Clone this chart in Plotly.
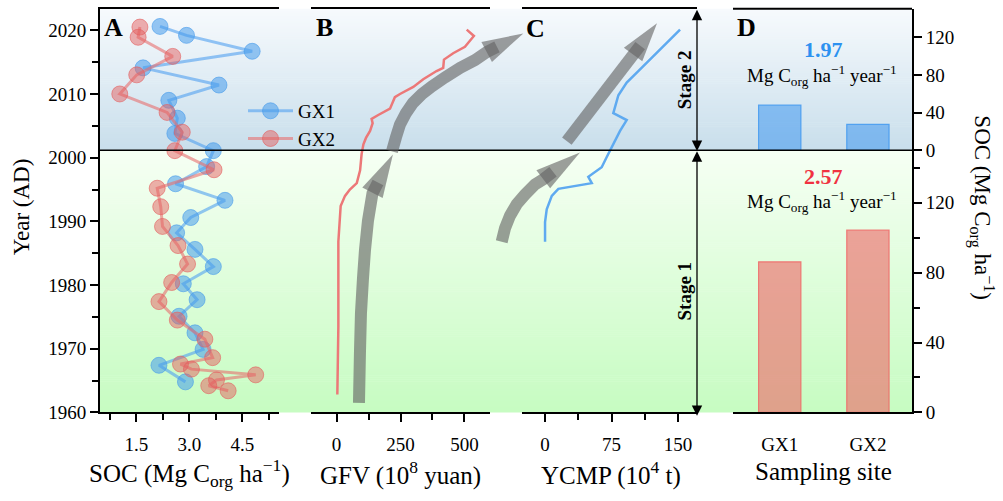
import plotly.graph_objects as go
import math

# ---------------- data ----------------
gx1_year = [2020.6, 2019.2, 2016.7, 2014.1, 2011.4, 2009.0, 2006.2, 2003.8, 2001.1, 1998.6, 1995.9, 1993.3,
            1990.6, 1988.2, 1985.6, 1982.9, 1980.2, 1977.7, 1975.1, 1972.5, 1969.9, 1967.4, 1964.8]
gx1_soc = [2.17, 2.92, 4.78, 1.69, 3.84, 2.42, 2.66, 2.59, 3.68, 3.49, 2.61, 4.01,
           3.04, 2.64, 3.16, 3.68, 2.83, 3.22, 2.71, 3.16, 3.39, 2.14, 2.89]
gx2_year = [2020.5, 2018.9, 2015.9, 2013.0, 2010.0, 2007.1, 2004.0, 2001.1, 1998.1, 1995.2, 1992.3, 1989.2,
            1986.2, 1983.3, 1980.4, 1977.4, 1974.5, 1971.5, 1968.6, 1967.6, 1966.8, 1965.9, 1965.1, 1964.2, 1963.4]
gx2_soc = [1.60, 1.55, 2.53, 1.51, 1.03, 2.37, 2.80, 2.59, 3.70, 2.09, 2.19, 2.24,
           2.68, 2.95, 2.50, 2.14, 2.66, 3.44, 3.66, 2.75, 3.06, 4.88, 3.77, 3.55, 4.10]

gfv_year = [1962.8, 1973.5, 1986.8, 1989.9, 1992.4, 1994.0, 1995.0, 1996.0, 1998.0, 2000.6, 2002.1, 2003.1,
            2004.2, 2005.4, 2006.1, 2006.7, 2007.7, 2009.5, 2010.0, 2011.1, 2012.3, 2013.6, 2014.1, 2015.4,
            2016.4, 2017.4, 2019.1, 2020.1]
gfv_val = [3, 7, 7, 11, 16, 33, 52, 79, 92, 98, 105, 115,
           131, 141, 137, 163, 209, 228, 248, 300, 339, 391, 417, 420,
           456, 502, 537, 509]

ycmp_year = [1986.8, 1989.9, 1991.9, 1994.0, 1995.1, 1995.4, 1996.0, 1997.0, 1998.5, 2000.1, 2002.1, 2004.2,
             2005.9, 2007.0, 2009.8, 2011.8, 2013.6, 2015.4, 2017.4, 2018.7, 2020.1]
ycmp_val = [0, 0, 1.9, 7.6, 15, 28.2, 52.7, 48.8, 63.9, 69.6, 77, 84.6,
            92.1, 77, 82.7, 92.1, 105.2, 118.4, 133.4, 142.9, 152.3]

sites = ["GX1", "GX2"]
soc_stage2 = [48, 27.5]
soc_stage1 = [86.2, 104.3]
rate_stage2 = "1.97"
rate_stage1 = "2.57"

year_ticks = [1960, 1970, 1980, 1990, 2000, 2010, 2020]
soc_ticks = [1.5, 3.0, 4.5]
gfv_ticks = [0, 250, 500]
ycmp_ticks = [0, 75, 150]
d_ticks = [0, 40, 80, 120]

# trend arrows (data units of panel B / C): body points, head base, tip
arrow_b1_x = [87.6, 91.5, 95.4, 103.2, 111.1, 122.8, 140.4, 161.9]
arrow_b1_y = [1961.5, 1969.5, 1975.6, 1981.0, 1985.5, 1990.1, 1994.4, 1996.1]
arrow_b1_head = [(140.4, 1994.5), (220.3, 2000.5)]
arrow_b2_x = [216.7, 232.3, 248.0, 271.4, 298.8, 334.0, 373.1, 423.9, 482.6, 541.2, 588.2, 627.3]
arrow_b2_y = [2001.0, 2003.2, 2005.2, 2007.0, 2008.6, 2010.0, 2011.2, 2012.6, 2014.1, 2015.3, 2016.6, 2017.4]
arrow_b2_head = [(587.0, 2016.6), (730.2, 2019.5)]
arrow_c1_x = [-48.9, -45.2, -39.5, -32.0, -22.6, -11.3, -2.0, 9.0]
arrow_c1_y = [1986.8, 1988.9, 1990.9, 1992.7, 1994.2, 1995.8, 1996.6, 1997.8]
arrow_c1_head = [(-2.0, 1996.6), (39.4, 2000.8)]
arrow_c2_x = [24.6, 107.3]
arrow_c2_y = [2002.6, 2017.6]
arrow_c2_head = [(99.3, 2016.2), (126.3, 2021.1)]

# ---------------- layout geometry (pixels) ----------------
W, H = 1003, 501
A_X = (100, 279)
B_X = (311, 490)
C_X = (522, 697)
D_X = (733, 912)
Y_TOP, Y_BOT, Y_DIV = 9, 421.7, 153.7
YR = (1960, 2023.37)
A_R = (0.47, 5.54)
B_R = (-100, 600)
C_R = (-26, 171.4)
D_R = (-0.53, 1.5)

FONT = "Liberation Serif"
TICKF = dict(family=FONT, size=19, color="black")


def xdom(p):
    return [p[0] / W, p[1] / W]


def ydom(top, bot):
    return [1 - bot / H, 1 - top / H]


def px_x(v, rng, dom):
    return dom[0] + (v - rng[0]) / (rng[1] - rng[0]) * (dom[1] - dom[0])


def py_y(yr):
    return Y_BOT - (yr - YR[0]) / (YR[1] - YR[0]) * (Y_BOT - Y_TOP)


def paper(px, py):
    return px / W, 1 - py / H


fig = go.Figure()

# ---- panel A ----
fig.add_trace(go.Scatter(x=gx1_soc, y=gx1_year, xaxis="x", yaxis="y", mode="lines+markers", name="GX1",
                         line=dict(color="rgba(80,160,240,0.6)", width=3),
                         marker=dict(size=16, color="rgba(70,155,235,0.55)",
                                     line=dict(color="rgba(70,155,235,0.6)", width=1))))
fig.add_trace(go.Scatter(x=gx2_soc, y=gx2_year, xaxis="x", yaxis="y", mode="lines+markers", name="GX2",
                         line=dict(color="rgba(232,110,110,0.6)", width=3),
                         marker=dict(size=16, color="rgba(228,95,95,0.5)",
                                     line=dict(color="rgba(228,95,95,0.6)", width=1))))
# ---- panel B ----
fig.add_trace(go.Scatter(x=gfv_val, y=gfv_year, xaxis="x2", yaxis="y", mode="lines", showlegend=False,
                         line=dict(color="rgb(236,120,120)", width=2.5)))
# ---- panel C ----
fig.add_trace(go.Scatter(x=ycmp_val, y=ycmp_year, xaxis="x3", yaxis="y", mode="lines", showlegend=False,
                         line=dict(color="rgb(95,170,240)", width=2.5)))
# ---- panel D ----
fig.add_trace(go.Bar(x=sites, y=soc_stage2, xaxis="x4", yaxis="y4", showlegend=False, width=0.48,
                     marker=dict(color="rgba(70,155,240,0.58)", line=dict(color="rgba(60,150,240,0.8)", width=1.2))))
fig.add_trace(go.Bar(x=sites, y=soc_stage1, xaxis="x4", yaxis="y5", showlegend=False, width=0.48,
                     marker=dict(color="rgba(238,105,105,0.62)", line=dict(color="rgba(240,100,100,0.8)", width=1.2))))

shapes = []


def mix(c1, c2, t):
    return "rgb(%d,%d,%d)" % tuple(round(a + (b - a) * t) for a, b in zip(c1, c2))


def gradient(top, bot, c_top, c_bot, step=2.0):
    n = int((bot - top) / step) + 1
    for i in range(n):
        y0 = top + i * step
        y1 = min(bot, y0 + step + 0.6)
        t = (i + 0.5) / n
        x0p, y0p = paper(A_X[0], y0)
        x1p, y1p = paper(D_X[1], y1)
        shapes.append(dict(type="rect", xref="paper", yref="paper", x0=x0p, x1=x1p, y0=y1p, y1=y0p,
                           fillcolor=mix(c_top, c_bot, t), line=dict(width=0), layer="below"))


gradient(Y_TOP, Y_DIV, (247, 250, 253), (200, 222, 235))
gradient(Y_DIV, Y_BOT, (246, 255, 244), (198, 252, 193))

# divider line
x0p, ydp = paper(A_X[0], Y_DIV)
x1p, _ = paper(D_X[1], Y_DIV)
shapes.append(dict(type="line", xref="paper", yref="paper", x0=x0p, x1=x1p, y0=ydp, y1=ydp,
                   line=dict(color="black", width=1.5), layer="above"))
# top border of panel D
xa, yt = paper(D_X[0], Y_TOP)
xb, _ = paper(D_X[1], Y_TOP)
shapes.append(dict(type="line", xref="paper", yref="paper", x0=xa, x1=xb, y0=yt, y1=yt,
                   line=dict(color="black", width=2), layer="above"))


def add_arrow(xs, ys, head, rng, dom_px, body_w=12, head_w=23):
    pts = [(px_x(v, rng, dom_px), py_y(yr)) for v, yr in zip(xs, ys)]
    path = "M " + " L ".join("%.5f,%.5f" % paper(px, py) for px, py in pts)
    shapes.append(dict(type="path", xref="paper", yref="paper", path=path,
                       line=dict(color="rgb(100,100,100)", width=body_w), fillcolor="rgba(0,0,0,0)",
                       opacity=0.62, layer="above"))
    (bv, byr), (tv, tyr) = head
    bx, by = px_x(bv, rng, dom_px), py_y(byr)
    tx, ty = px_x(tv, rng, dom_px), py_y(tyr)
    dx, dy = tx - bx, ty - by
    L = math.hypot(dx, dy)
    nx, ny = -dy / L, dx / L
    p1 = (bx + nx * head_w / 2, by + ny * head_w / 2)
    p2 = (bx - nx * head_w / 2, by - ny * head_w / 2)
    hp = "M %.5f,%.5f L %.5f,%.5f L %.5f,%.5f Z" % (*paper(tx, ty), *paper(*p1), *paper(*p2))
    shapes.append(dict(type="path", xref="paper", yref="paper", path=hp,
                       line=dict(width=0), fillcolor="rgb(100,100,100)", opacity=0.62, layer="above"))


add_arrow(arrow_b1_x, arrow_b1_y, arrow_b1_head, B_R, B_X)
add_arrow(arrow_b2_x, arrow_b2_y, arrow_b2_head, B_R, B_X)
add_arrow(arrow_c1_x, arrow_c1_y, arrow_c1_head, C_R, C_X)
add_arrow(arrow_c2_x, arrow_c2_y, arrow_c2_head, C_R, C_X)

annotations = []


def text(px, py, t, size=22, color="black", bold=False, angle=0, xanchor="center"):
    x, y = paper(px, py)
    annotations.append(dict(x=x, y=y, xref="paper", yref="paper", text=("<b>%s</b>" % t) if bold else t,
                            showarrow=False, textangle=angle, xanchor=xanchor, yanchor="middle",
                            font=dict(family=FONT, size=size, color=color)))


# panel letters
text(113, 28, "A", 26, bold=True)
text(324, 28, "B", 26, bold=True)
text(535, 29, "C", 26, bold=True)
text(746, 28, "D", 26, bold=True)
# axis titles
text(21, 212, "Year (AD)", 23, angle=-90)
text(982, 212, "SOC (Mg C<sub>org</sub> ha<sup>−1</sup>)", 23, angle=90)
text(189, 484, "SOC (Mg C<sub>org</sub> ha<sup>−1</sup>)", 25)
text(400, 484, "GFV (10<sup>8</sup> yuan)", 25)
text(611, 484, "YCMP (10<sup>4</sup> t)", 25)
text(823, 482, "Sampling site", 25)
# panel D rates
text(823, 51, rate_stage2, 22, color="rgb(45,145,240)", bold=True)
text(822, 77, "Mg C<sub>org</sub> ha<sup>−1</sup> year<sup>−1</sup>", 19)
text(823, 180, rate_stage1, 22, color="rgb(240,50,65)", bold=True)
text(822, 206, "Mg C<sub>org</sub> ha<sup>−1</sup> year<sup>−1</sup>", 19)
# stage labels
text(684, 82, "Stage 2", 19, bold=True, angle=-90)
text(684, 298, "Stage 1", 19, bold=True, angle=-90)

# stage double arrows
SX = 697
for (ya, yb) in [(Y_TOP + 1, Y_DIV - 1), (Y_DIV + 1, Y_BOT - 1)]:
    x, y = paper(SX, ya)
    annotations.append(dict(x=x, y=y, xref="paper", yref="paper", ax=0, ay=yb - ya, axref="pixel",
                            ayref="pixel", showarrow=True, arrowhead=2, arrowside="end+start",
                            arrowsize=1.6, arrowwidth=1.3, arrowcolor="black", text=""))

axis_common = dict(showline=True, linecolor="black", linewidth=2, ticks="outside", ticklen=8, tickwidth=1.5,
                   tickcolor="black", showgrid=False, zeroline=False, tickfont=TICKF)
minor_common = dict(ticks="outside", ticklen=6, tickwidth=1.5, tickcolor="black")

fig.update_layout(
    width=W, height=H, autosize=False,
    margin=dict(l=0, r=0, t=0, b=0, pad=0),
    paper_bgcolor="white", plot_bgcolor="rgba(0,0,0,0)",
    font=dict(family=FONT, color="black"),
    shapes=shapes, annotations=annotations,
    showlegend=True,
    legend=dict(x=243 / W, y=1 - 94 / H, xanchor="left", yanchor="top", bgcolor="rgba(0,0,0,0)",
                font=dict(family=FONT, size=19, color="black"), itemwidth=45, tracegroupgap=0),
    xaxis=dict(domain=xdom(A_X), range=list(A_R), anchor="y", mirror=True, tickvals=soc_ticks,
               ticktext=["%.1f" % v for v in soc_ticks], ticklabelstandoff=6,
               minor=dict(tickvals=[0.75, 2.25, 3.75, 5.25], **minor_common), **axis_common),
    xaxis2=dict(domain=xdom(B_X), range=list(B_R), anchor="y", mirror=True, tickvals=gfv_ticks,
                ticklabelstandoff=6, minor=dict(tickvals=[125, 375], **minor_common), **axis_common),
    xaxis3=dict(domain=xdom(C_X), range=list(C_R), anchor="y", mirror=True, tickvals=ycmp_ticks,
                ticklabelstandoff=6, minor=dict(tickvals=[37.5, 112.5], **minor_common), **axis_common),
    xaxis4=dict(domain=xdom(D_X), range=list(D_R), anchor="y5", type="category", showline=True,
                linecolor="black", linewidth=2, ticks="", showgrid=False, zeroline=False, tickfont=TICKF,
                ticklabelstandoff=14),
    yaxis=dict(domain=ydom(Y_TOP, Y_BOT), range=list(YR), anchor="x", tickvals=year_ticks,
               minor=dict(tickvals=[1965, 1975, 1985, 1995, 2005, 2015], **minor_common), **axis_common),
    yaxis4=dict(domain=ydom(Y_TOP, Y_DIV), range=[0, 150.5], anchor="x4", side="right", tickvals=d_ticks,
                **axis_common),
    yaxis5=dict(domain=ydom(Y_DIV, Y_BOT), range=[0, 150], anchor="x4", side="right", tickvals=d_ticks,
                minor=dict(tickvals=[20, 60, 100, 140], **minor_common), **axis_common),
)

fig.write_html("out.html", config={"displayModeBar": False},
               post_script="document.body.style.margin='0';document.body.style.padding='0';")
